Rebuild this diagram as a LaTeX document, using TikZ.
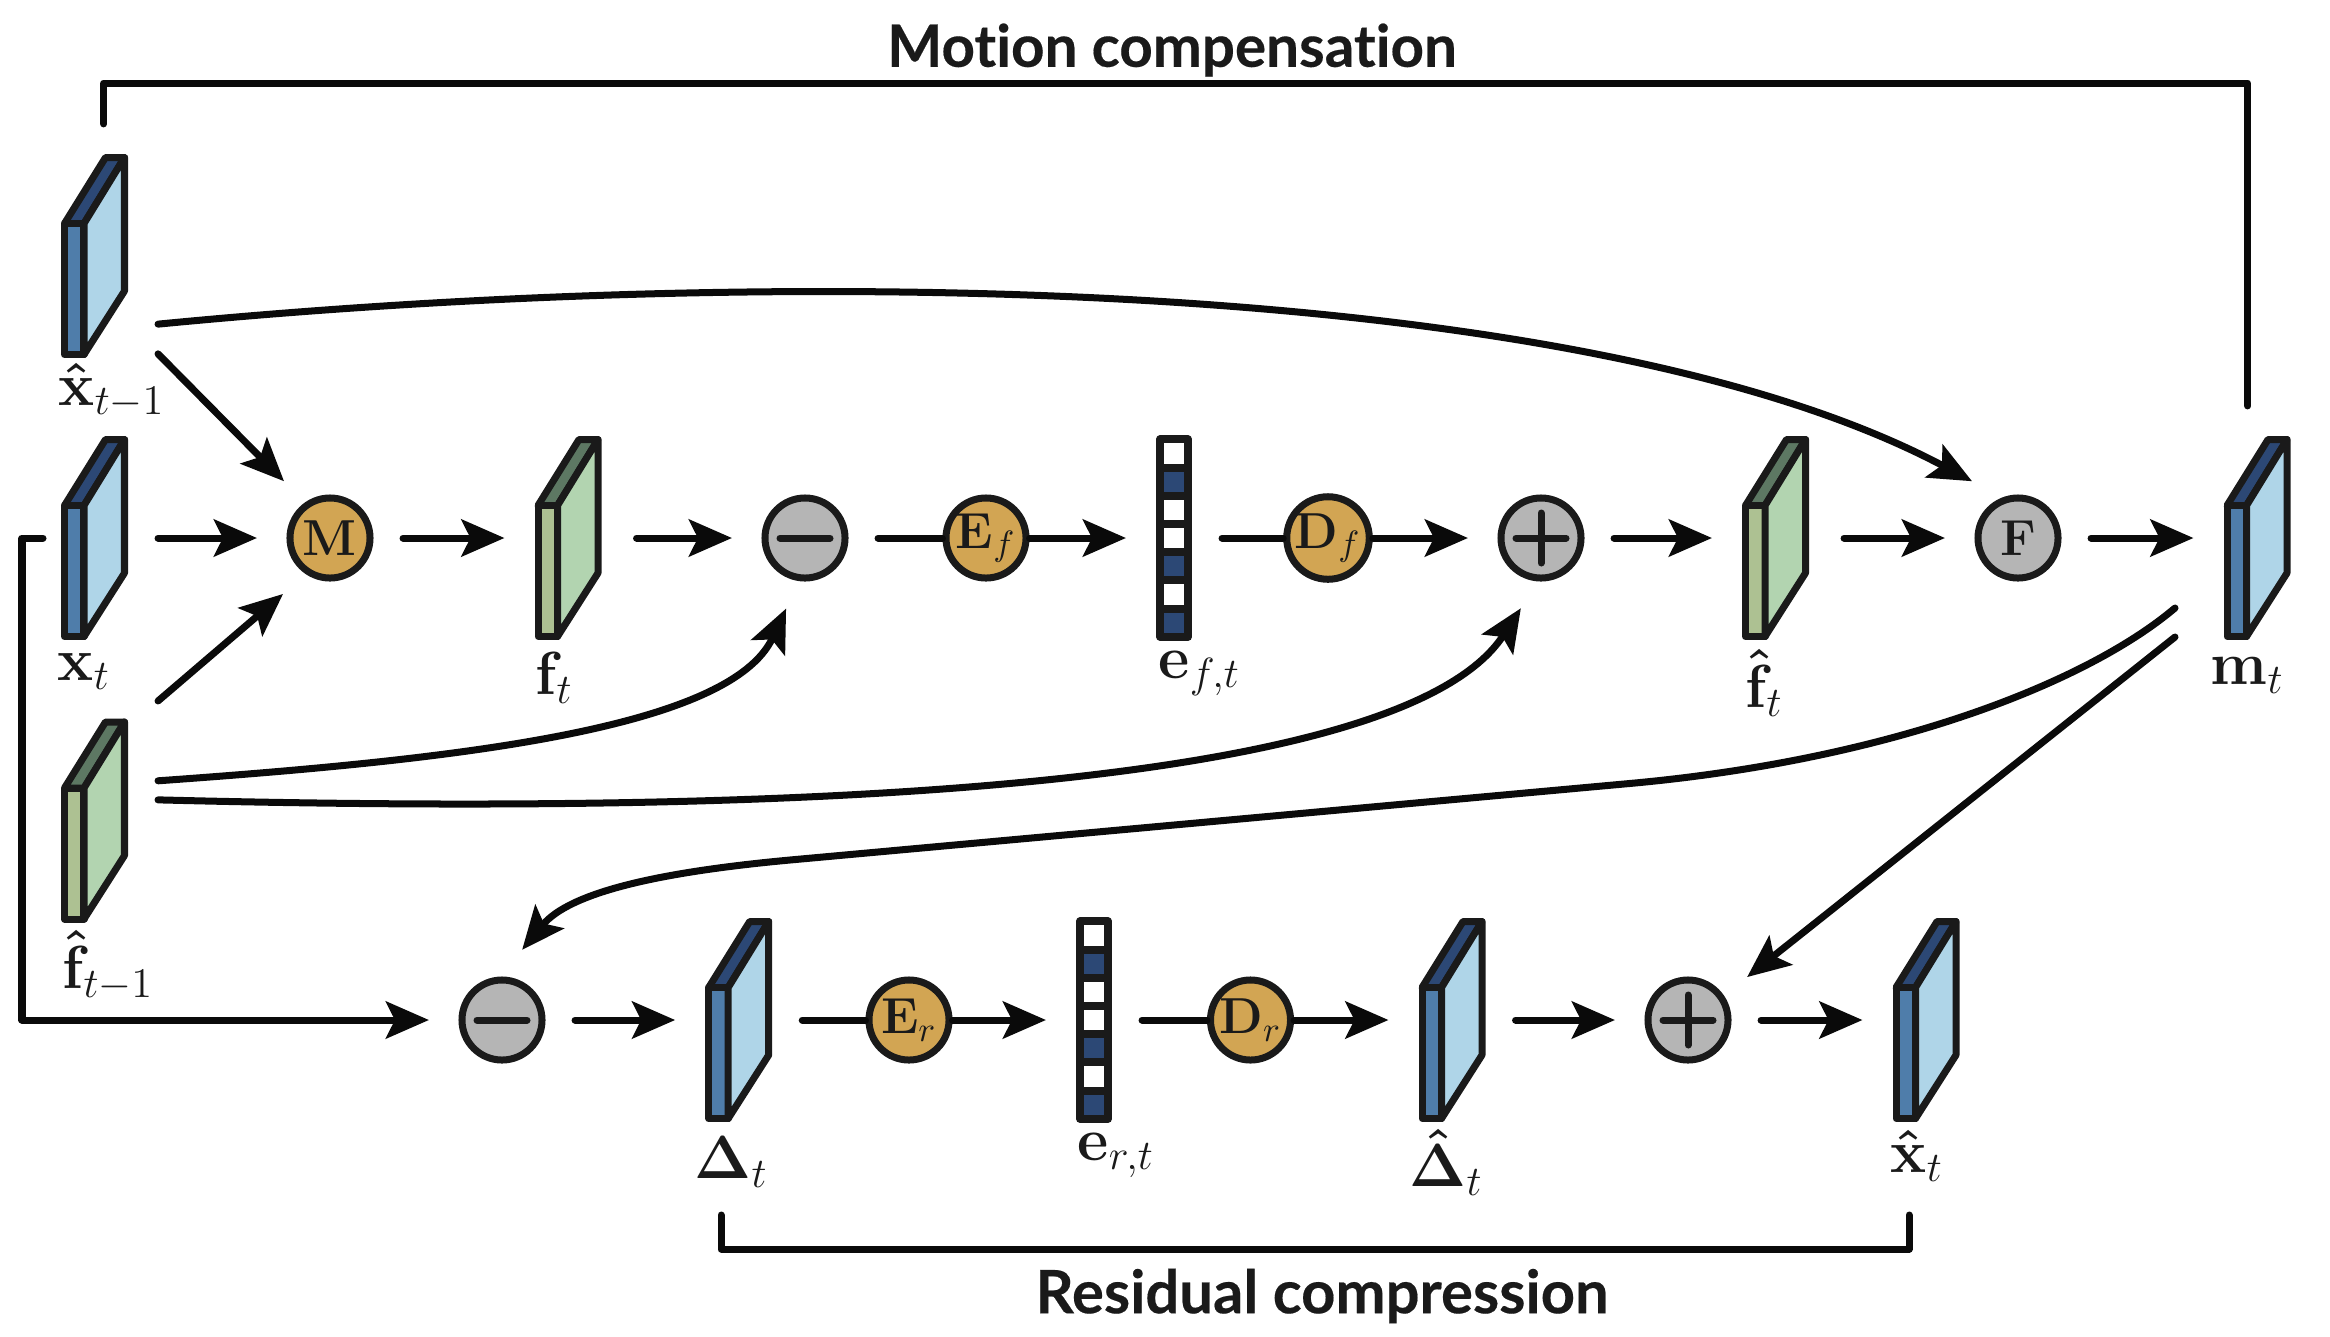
\documentclass[tikz,border=0pt]{standalone}
\usepackage{amsmath}
\usepackage[no-math]{fontspec}
\newfontfamily\headfont[Ligatures=NoCommon,BoldFeatures={FakeBold=0.3}]{Lato}
\usepackage{tikz}
\usetikzlibrary{arrows.meta}
\definecolor{inkline}{HTML}{1A1A1A}
\definecolor{arrowink}{HTML}{0A0A0A}
\definecolor{goldfill}{HTML}{D2A553}
\definecolor{greyfill}{HTML}{B5B5B5}
\definecolor{bluetop}{HTML}{2C4875}
\definecolor{bluefront}{HTML}{4F7DAA}
\definecolor{blueside}{HTML}{AFD5E8}
\definecolor{greentop}{HTML}{5D7863}
\definecolor{greenfront}{HTML}{ADC192}
\definecolor{greenside}{HTML}{B2D4B0}
\newcommand{\cubefaces}[3]{
	\node[cubebox] (-b) at (0,0) {};
	\draw[face,fill=#1] (-30,-32.5) -- (11,-98.5) -- (30,-98.5) -- (-10.5,-32.5) -- cycle;
	\draw[face,fill=#2] (-30,-32.5) rectangle (-10.5,98.5);
	\draw[face,fill=#3] (-10.5,-32.5) -- (30,-98.5) -- (30,35) -- (-10.5,98.5) -- cycle;
}
\tikzset{
	face/.style={draw=inkline,line width=.07cm,line join=round},
	cubebox/.style={rectangle,minimum width=.67cm,minimum height=2.04cm,inner sep=0pt,outer sep=.3cm},
	barbox/.style={rectangle,minimum width=.36cm,minimum height=2.05cm,inner sep=0pt,outer sep=.3cm},
	bluecube/.pic={\cubefaces{bluetop}{bluefront}{blueside}},
	greencube/.pic={\cubefaces{greentop}{greenfront}{greenside}},
	codebar/.pic={
		\node[barbox] (-b) at (0,0) {};
		\foreach \k/\c in {-3/white,-2/bluetop,-1/white,0/white,1/bluetop,2/white,3/bluetop}
			\draw[draw=inkline,line width=.08cm,line join=round,fill=\c] (-14,28.2*\k-14.1) rectangle (14,28.2*\k+14.1);
	},
	gate/.style={circle,draw=inkline,line width=.07cm,minimum size=.8cm,inner sep=0pt,text=inkline,font=\fontsize{14}{16}\selectfont},
	warp/.style={gate,fill=goldfill,outer sep=.33cm},
	coder/.style={gate,fill=goldfill,outer sep=.035cm},
	blend/.style={gate,fill=greyfill,outer sep=.33cm},
	opminus/.style={blend,path picture={\draw[inkline,line width=.07cm,line cap=round] (path picture bounding box.center) +(-25,0) -- +(25,0);}},
	opplus/.style={blend,path picture={\draw[inkline,line width=.07cm,line cap=round] (path picture bounding box.center) +(-25,0) -- +(25,0) +(0,-25) -- +(0,25);}},
	wire/.style={draw=arrowink,line width=.07cm,line cap=round,line join=round},
	flow/.style={wire,-{Stealth[length=.43cm,width=.37cm,inset=.09cm]}},
	lab/.style={anchor=base west,inner sep=0pt,text=inkline,font=\fontsize{18.5}{20}\selectfont},
	heading/.style={inner sep=0pt,text=inkline,font=\fontsize{16.6}{18}\headfont\bfseries},
}
\begin{document}
\begin{tikzpicture}[x=.01cm,y=-.01cm]
		\useasboundingbox (0,0) rectangle (2330,1336);
		% top row
		\pic (xm) at (94.5,256) {bluecube};
		\pic (xt) at (94.5,538) {bluecube};
		\pic (fm) at (94.5,820.5) {greencube};
		\node[warp] (M) at (330,538) {$\mathbf{M}$};
		\pic (ft) at (568,538) {greencube};
		\node[opminus] (sub) at (805,538) {};
		\node[coder] (Ef) at (986,538) {$\mathbf{E}_f$};
		\pic (ef) at (1174,538) {codebar};
		\node[coder] (Df) at (1328,538) {$\mathbf{D}_f$};
		\node[opplus] (add) at (1541,538) {};
		\pic (fh) at (1775.5,538) {greencube};
		\node[blend] (F) at (2018,538) {$\mathbf{F}$};
		\pic (mt) at (2257,538) {bluecube};
		% bottom row
		\node[opminus] (subr) at (502,1020) {};
		\pic (dt) at (738.7,1020) {bluecube};
		\node[coder] (Er) at (909,1020) {$\mathbf{E}_r$};
		\pic (er) at (1094,1020) {codebar};
		\node[coder] (Dr) at (1250.5,1020) {$\mathbf{D}_r$};
		\pic (dh) at (1452,1020) {bluecube};
		\node[opplus] (addr) at (1688,1020) {};
		\pic (xh) at (1926,1020) {bluecube};
		% labels
		\node[lab] (xmlab) at (58,405) {$\mathbf{\hat{x}}_{t-1}$};
		\node[lab] (xtlab) at (57,680) {$\mathbf{x}_t$};
		\node[lab] (fmlab) at (62,988) {$\mathbf{\hat{f}}_{t-1}$};
		\node[lab] (ftlab) at (535,694) {$\mathbf{f}_t$};
		\node[lab] (eflab) at (1158,678) {$\mathbf{e}_{f,t}$};
		\node[lab] (fhlab) at (1745,707) {$\mathbf{\hat{f}}_t$};
		\node[lab] (mtlab) at (2210,684) {$\mathbf{m}_t$};
		\node[lab] (dtlab) at (694,1178) {$\mathbf{\Delta}_t$};
		\node[lab] (erlab) at (1077,1160) {$\mathbf{e}_{r,t}$};
		\node[lab] (dhlab) at (1409,1186) {$\mathbf{\hat{\Delta}}_t$};
		\node[lab] (xhlab) at (1890,1172) {$\mathbf{\hat{x}}_t$};
		\node[heading] (motion) at (1172,50) {Motion compensation};
		\node[heading,font=\fontsize{17}{18}\headfont\bfseries] (residual) at (1322,1296) {Residual compression};
		% free ends
		\coordinate (toprail) at (1172,83);
		\coordinate (brl) at (721,1215);
		\coordinate (brr) at (1909,1215);
		\coordinate (brm) at (1315,1249);
		\coordinate (mA) at (2175,608);
		\coordinate (mB) at (2175,637);
		\coordinate (xtA) at (43,538);
		% straight arrows
		\draw[flow] (xt-b.east) -- (M.west);
		\draw[flow] (M.east) -- (ft-b.west);
		\draw[flow,shorten <=.05cm] (ft-b.east) -- (sub.west);
		\draw[wire] (sub.east) -- (Ef.west);
		\draw[flow] (Ef.east) -- (ef-b.west);
		\draw[wire] (ef-b.east) -- (Df.west);
		\draw[flow] (Df.east) -- (add.west);
		\draw[flow] (add.east) -- (fh-b.west);
		\draw[flow,shorten <=.05cm] (fh-b.east) -- (F.west);
		\draw[flow] (F.east) -- (mt-b.west);
		\draw[flow] (subr.east) -- (dt-b.west);
		\draw[wire] (dt-b.east) -- (Er.west);
		\draw[flow] (Er.east) -- (er-b.west);
		\draw[wire] (er-b.east) -- (Dr.west);
		\draw[flow] (Dr.east) -- (dh-b.west);
		\draw[flow] (dh-b.east) -- (addr.west);
		\draw[flow] (addr.east) -- (xh-b.west);
		\draw[flow] (xm-b.-57) -- (M.129);
		\draw[flow] (fm-b.62) -- (M.230);
		\draw[flow] (mB) -- (addr.36);
		\draw[flow] (xtA) -- ++(-21,0) |- (subr.west);
		% curves
		\draw[flow] (xm-b.-47) .. controls (800,262) and (1590,278) .. (F.129);
		\draw[flow] (fm-b.32) .. controls (450,760) and (730,730) .. (sub.255);
		\draw[flow] (fm-b.18) .. controls (750,815) and (1400,795) .. (add.254);
		\draw[flow] (mA) .. controls (2090,680) and (1900,758) .. (1635,783) -- (790,860) .. controls (660,872) and (570,892) .. (subr.74);
		% brackets
		\draw[wire] (xm-b.86) |- (toprail) -| (mt-b.94);
		\draw[wire] (brl) |- (brm) -| (brr);
	\end{tikzpicture}
\end{document}
